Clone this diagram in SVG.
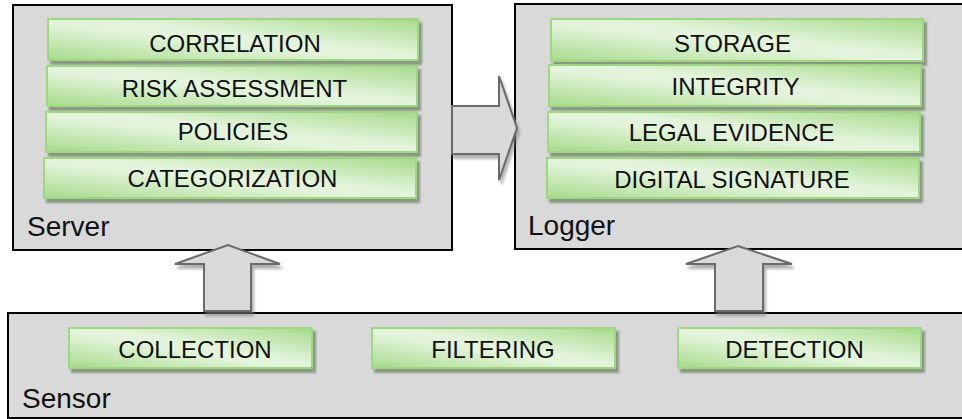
<svg xmlns="http://www.w3.org/2000/svg" width="962" height="419" viewBox="0 0 962 419">
<defs>
<linearGradient id="g" x1="0" y1="1" x2="1" y2="0">
<stop offset="0" stop-color="#a6db8a"/>
<stop offset="0.45" stop-color="#e4f4dc"/>
<stop offset="0.55" stop-color="#e4f4dc"/>
<stop offset="1" stop-color="#a6db8a"/>
</linearGradient>
<filter id="bs" x="-5%" y="-20%" width="115%" height="150%">
<feDropShadow dx="3" dy="4" stdDeviation="0.8" flood-color="#7b8d71" flood-opacity="0.85"/>
</filter>
<filter id="as" x="-20%" y="-20%" width="150%" height="150%">
<feDropShadow dx="2" dy="4" stdDeviation="1.5" flood-color="#7a7a7a" flood-opacity="0.6"/>
</filter>
</defs>
<style>
.box{fill:#d9d9d9;stroke:#000;stroke-width:2}
.bar{fill:url(#g);stroke:#9ed682;stroke-width:2;filter:url(#bs)}
.t{font-family:"Liberation Sans",Arial,sans-serif;font-size:24px;fill:#111;text-anchor:middle}
.lbl{font-family:"Liberation Sans",Arial,sans-serif;font-size:28px;fill:#111}
.arr{fill:#d9d9d9;stroke:#6a6a6a;stroke-width:2;stroke-linejoin:miter;filter:url(#as)}
</style>
<rect width="962" height="419" fill="#fff"/>
<g id="server">
<rect class="box" x="13" y="5" width="439" height="245"/>
<text class="lbl" x="27" y="236">Server</text>
</g>
<g id="logger">
<rect class="box" x="515" y="4" width="460" height="245"/>
<text class="lbl" x="528" y="235">Logger</text>
</g>
<g id="sensor">
<rect class="box" x="8" y="313" width="970" height="105"/>
<text class="lbl" x="22" y="408">Sensor</text>
</g>
<g id="correlation"><rect class="bar" x="48" y="19" width="370" height="41"/><text class="t" x="235" y="52">CORRELATION</text></g>
<g id="risk"><rect class="bar" x="47" y="66" width="370" height="40"/><text class="t" x="234.5" y="97">RISK ASSESSMENT</text></g>
<g id="policies"><rect class="bar" x="46" y="112" width="371" height="40"/><text class="t" x="233" y="140">POLICIES</text></g>
<g id="categorization"><rect class="bar" x="44" y="158" width="372" height="40"/><text class="t" x="232.5" y="187">CATEGORIZATION</text></g>
<g id="storage"><rect class="bar" x="551" y="19" width="372" height="42"/><text class="t" x="732.5" y="52">STORAGE</text></g>
<g id="integrity"><rect class="bar" x="549" y="65" width="372" height="41"/><text class="t" x="735.5" y="95">INTEGRITY</text></g>
<g id="legal"><rect class="bar" x="548" y="112" width="372" height="40"/><text class="t" x="731.7" y="141">LEGAL EVIDENCE</text></g>
<g id="signature"><rect class="bar" x="547" y="158" width="372" height="40"/><text class="t" x="732" y="188">DIGITAL SIGNATURE</text></g>
<g id="collection"><rect class="bar" x="69" y="328" width="243" height="40"/><text class="t" x="195" y="358">COLLECTION</text></g>
<g id="filtering"><rect class="bar" x="372" y="328" width="243" height="40"/><text class="t" x="493" y="358">FILTERING</text></g>
<g id="detection"><rect class="bar" x="678" y="328" width="243" height="40"/><text class="t" x="794.5" y="358">DETECTION</text></g>
<g id="connectors">
<polygon class="arr" points="452,106 499,106 499,76 517,128 499,180 499,154 452,154"/>
<polygon class="arr" points="204,311 204,264 175,264 228,245 280,264 251,264 251,311"/>
<polygon class="arr" points="715,311 715,264 686,264 738,246 792,264 763,264 763,311"/>
</g>
</svg>
